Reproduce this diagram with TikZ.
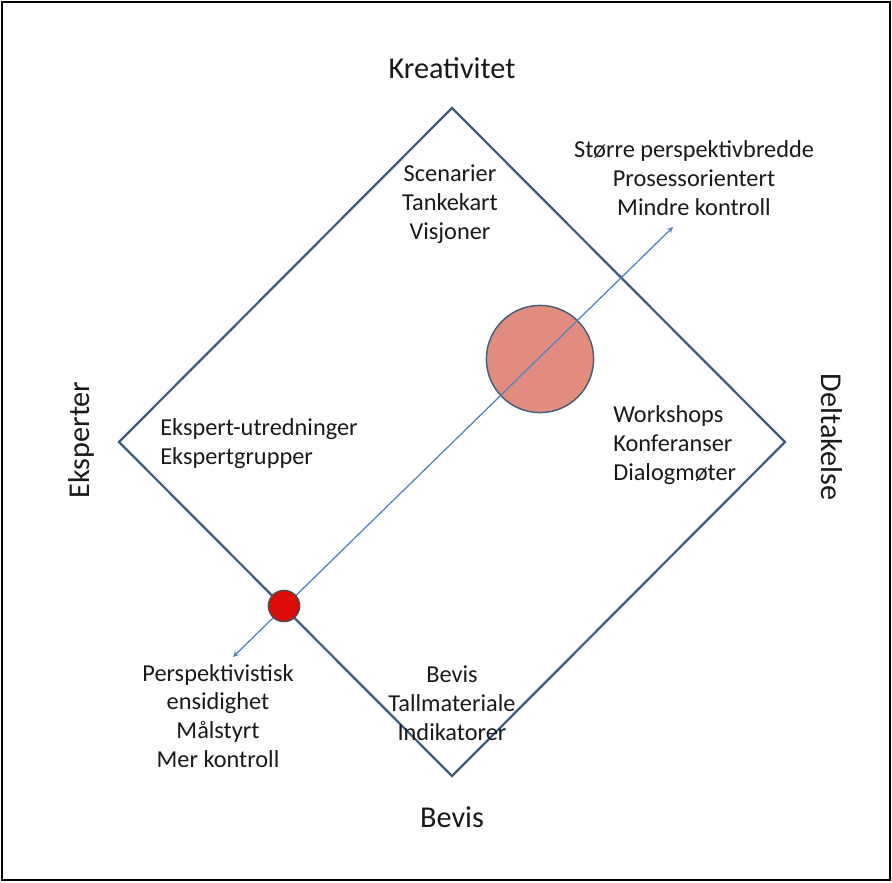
\documentclass[tikz,border=0pt]{standalone}
\usepackage{fontspec}
\setmainfont{Carlito}
\usetikzlibrary{arrows}
\definecolor{edgeblue}{RGB}{64,92,122}
\definecolor{arrowblue}{RGB}{84,130,186}
\definecolor{salmon}{RGB}{226,140,126}
\definecolor{dotred}{RGB}{222,12,8}
\tikzstyle{txt}=[font=\fontsize{17.3}{20.5}\selectfont,inner sep=0,align=center,text=black!90]
\tikzstyle{pole}=[font=\fontsize{21.5}{24}\selectfont,inner sep=0,text=black!90]
\tikzstyle{bigdot}=[shape=circle,minimum size=2.68cm,inner sep=0,line width=1pt,draw=edgeblue,fill=salmon]
\tikzstyle{smalldot}=[shape=circle,minimum size=0.78cm,inner sep=0,line width=1pt,draw=gray!60!black,fill=dotred]
\tikzstyle{arrow} = [arrowblue,line width=0.9pt,<->,>=stealth]
\tikzstyle{edge} = [edgeblue,line width=1.6pt,line join=miter]

\begin{document}
\begin{tikzpicture}[x=0.025cm,y=-0.025cm]
\useasboundingbox (0,0) rectangle (892,882);
\draw[line width=1.2pt] (2,2) rectangle (890,880);

\coordinate (top) at (452,108);
\coordinate (right) at (785,442);
\coordinate (bottom) at (452,776);
\coordinate (left) at (119,442);
\draw[edge] (top)--(right)--(bottom)--(left)--cycle;

\node[pole] (kreativitet) at (452,68) {Kreativitet};
\node[pole] (bevis) at (452,817) {Bevis};
\node[pole,rotate=90] (eksperter) at (81,440) {Eksperter};
\node[pole,rotate=-90] (deltakelse) at (832,437) {Deltakelse};

\node[txt] (scenarier) at (450,204) {Scenarier\\Tankekart\\Visjoner};
\node[txt] (bredde) at (694,178) {Større perspektivbredde\\Prosessorientert\\Mindre kontroll};
\node[txt,align=left,anchor=west] (utredning) at (160,444) {Ekspert-utredninger\\Ekspertgrupper};
\node[txt,align=left,anchor=west] (workshops) at (613,445) {Workshops\\Konferanser\\Dialogmøter};
\node[txt] (tall) at (452,703) {Bevis\\Tallmateriale\\Indikatorer};
\node[txt] (ensidig) at (218,716) {Perspektivistisk\\ensidighet\\Målstyrt\\Mer kontroll};

\node[bigdot] (bubble) at (540,359) {};
\coordinate (lo) at (233,657);
\coordinate (hi) at (673,227);
\draw[arrow] (lo)--(hi);
\node[smalldot] (focus) at (284,606) {};
\end{tikzpicture}
\end{document}
